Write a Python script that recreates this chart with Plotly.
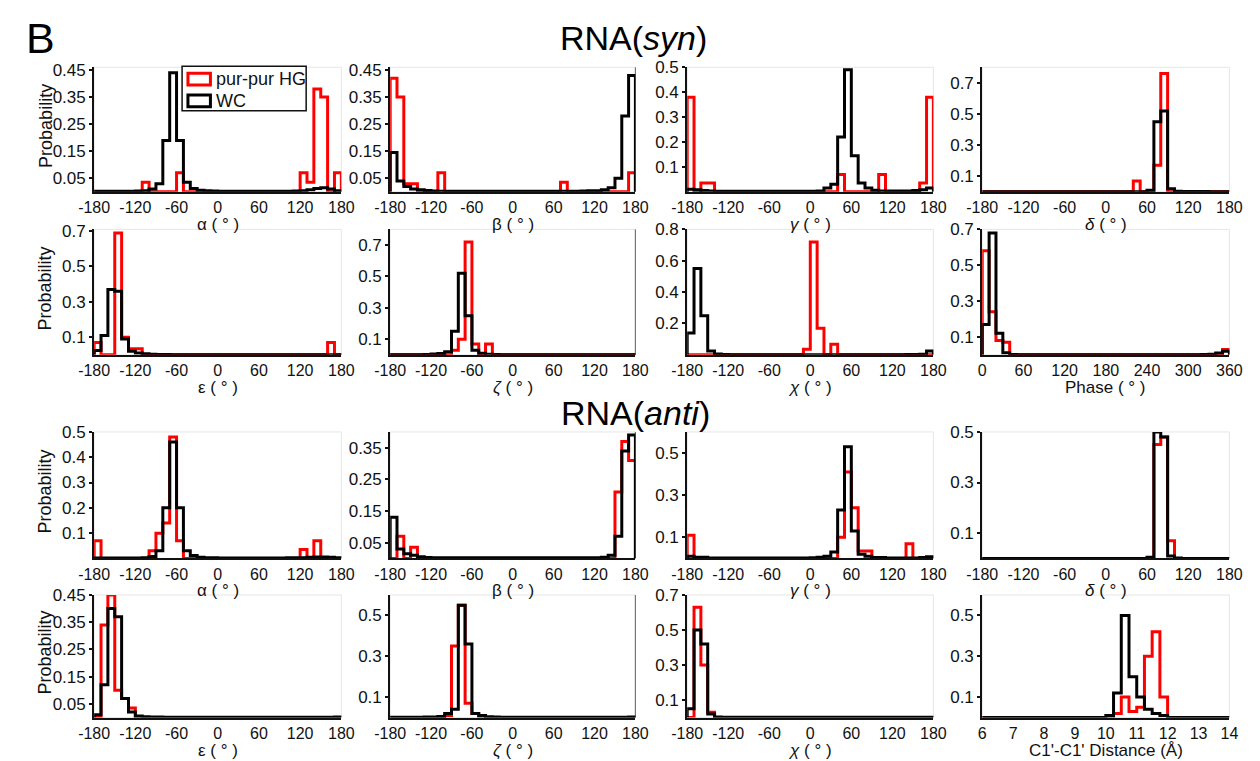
import plotly.graph_objects as go

# ---------------- data ----------------
angle_edges = [-180, -170, -160, -150, -140, -130, -120, -110, -100, -90, -80, -70,
               -60, -50, -40, -30, -20, -10, 0, 10, 20, 30, 40, 50,
               60, 70, 80, 90, 100, 110, 120, 130, 140, 150, 160, 170, 180]
phase_edges = [0, 10, 20, 30, 40, 50, 60, 70, 80, 90, 100, 110,
               120, 130, 140, 150, 160, 170, 180, 190, 200, 210, 220, 230,
               240, 250, 260, 270, 280, 290, 300, 310, 320, 330, 340, 350, 360]
dist_edges = [6.0, 6.25, 6.5, 6.75, 7.0, 7.25, 7.5, 7.75, 8.0, 8.25, 8.5, 8.75,
              9.0, 9.25, 9.5, 9.75, 10.0, 10.25, 10.5, 10.75, 11.0, 11.25, 11.5, 11.75,
              12.0, 12.25, 12.5, 12.75, 13.0, 13.25, 13.5, 13.75, 14.0]

angle_ticks = [-180, -120, -60, 0, 60, 120, 180]
angle_ticktext = ["-180", "-120", "-60", "0", "60", "120", "180"]
phase_ticks = [0, 60, 120, 180, 240, 300, 360]
phase_ticktext = ["0", "60", "120", "180", "240", "300", "360"]
dist_ticks = [6, 7, 8, 9, 10, 11, 12, 13, 14]
dist_ticktext = ["6", "7", "8", "9", "10", "11", "12", "13", "14"]

# RNA(syn)
syn_alpha_hg = [0, 0, 0, 0, 0, 0, 0, 0.035, 0, 0, 0, 0,
                0.07, 0, 0, 0, 0, 0, 0, 0, 0, 0, 0, 0,
                0, 0, 0, 0, 0, 0, 0.07, 0.035, 0.38, 0.35, 0, 0.07]
syn_alpha_wc = [0.002, 0.002, 0.002, 0.002, 0.002, 0.002, 0.003, 0.004, 0.01, 0.03, 0.19, 0.44,
                0.19, 0.035, 0.012, 0.006, 0.004, 0.003, 0.002, 0.002, 0.002, 0.002, 0.002, 0.002,
                0.002, 0.002, 0.002, 0.002, 0.002, 0.003, 0.004, 0.008, 0.012, 0.015, 0.01, 0.004]
syn_beta_hg = [0.42, 0.35, 0.03, 0.03, 0, 0, 0, 0.07, 0, 0, 0, 0,
               0, 0, 0, 0, 0, 0, 0, 0, 0, 0, 0, 0,
               0, 0.035, 0, 0, 0, 0, 0, 0, 0, 0, 0, 0.07]
syn_beta_wc = [0.145, 0.04, 0.02, 0.01, 0.008, 0.005, 0.003, 0.002, 0.002, 0.002, 0.002, 0.002,
               0.002, 0.002, 0.002, 0.002, 0.002, 0.002, 0.002, 0.002, 0.002, 0.002, 0.002, 0.002,
               0.002, 0.002, 0.002, 0.002, 0.003, 0.004, 0.004, 0.008, 0.015, 0.05, 0.28, 0.43]
syn_gamma_hg = [0.38, 0, 0.035, 0.035, 0, 0, 0, 0, 0, 0, 0, 0,
                0, 0, 0, 0, 0, 0, 0, 0, 0, 0, 0.07, 0,
                0, 0, 0, 0, 0.07, 0, 0, 0, 0, 0, 0.035, 0.38]
syn_gamma_wc = [0.01, 0.008, 0.005, 0.003, 0.002, 0.002, 0.002, 0.002, 0.002, 0.002, 0.002, 0.002,
                0.002, 0.002, 0.002, 0.002, 0.002, 0.002, 0.002, 0.003, 0.015, 0.03, 0.22, 0.49,
                0.145, 0.035, 0.015, 0.006, 0.003, 0.003, 0.003, 0.003, 0.003, 0.005, 0.008, 0.015]
syn_delta_hg = [0, 0, 0, 0, 0, 0, 0, 0, 0, 0, 0, 0,
                0, 0, 0, 0, 0, 0, 0, 0, 0, 0, 0.07, 0,
                0, 0.17, 0.76, 0, 0, 0, 0, 0, 0, 0, 0, 0]
syn_delta_wc = [0, 0, 0, 0, 0, 0, 0, 0, 0, 0, 0, 0,
                0, 0, 0, 0, 0, 0, 0, 0, 0, 0, 0, 0,
                0.01, 0.45, 0.52, 0.02, 0.004, 0.002, 0.002, 0.002, 0.002, 0, 0, 0]
syn_eps_hg = [0.07, 0, 0, 0.69, 0.1, 0.035, 0.035, 0, 0, 0, 0, 0,
              0, 0, 0, 0, 0, 0, 0, 0, 0, 0, 0, 0,
              0, 0, 0, 0, 0, 0, 0, 0, 0, 0, 0.07, 0]
syn_eps_wc = [0.025, 0.11, 0.37, 0.36, 0.09, 0.02, 0.01, 0.006, 0.004, 0.002, 0.002, 0.001,
              0.001, 0.001, 0.001, 0.001, 0.001, 0.001, 0.001, 0.001, 0.001, 0.001, 0.001, 0.001,
              0.001, 0.001, 0.001, 0.001, 0.001, 0.001, 0.001, 0.001, 0.001, 0.001, 0.001, 0.001]
syn_zeta_hg = [0, 0, 0, 0, 0, 0, 0, 0, 0, 0.03, 0.1, 0.72,
               0.07, 0, 0.07, 0, 0, 0, 0, 0, 0, 0, 0, 0,
               0, 0, 0, 0, 0, 0, 0, 0, 0, 0, 0, 0]
syn_zeta_wc = [0.001, 0.001, 0.001, 0.001, 0.001, 0.002, 0.006, 0.008, 0.02, 0.15, 0.52, 0.25,
               0.03, 0.01, 0.004, 0.002, 0.001, 0.001, 0.001, 0.001, 0.001, 0.001, 0.001, 0.001,
               0.001, 0.001, 0.001, 0.001, 0.001, 0.001, 0.001, 0.001, 0.001, 0.001, 0.001, 0.001]
syn_chi_hg = [0, 0, 0, 0, 0, 0, 0, 0, 0, 0, 0, 0,
              0, 0, 0, 0, 0, 0.035, 0.72, 0.17, 0, 0.067, 0, 0,
              0, 0, 0, 0, 0, 0, 0, 0, 0, 0, 0, 0]
syn_chi_wc = [0.14, 0.55, 0.25, 0.025, 0.005, 0.002, 0.001, 0.001, 0.001, 0.001, 0.001, 0.001,
              0.001, 0.001, 0.001, 0.001, 0.001, 0.001, 0.001, 0.001, 0.001, 0.001, 0.001, 0.001,
              0.001, 0.001, 0.001, 0.001, 0.001, 0.001, 0.001, 0.001, 0.002, 0.002, 0.004, 0.025]
syn_phase_hg = [0.58, 0.24, 0.08, 0.07, 0, 0, 0, 0, 0, 0, 0, 0,
                0, 0, 0, 0, 0, 0, 0, 0, 0, 0, 0, 0,
                0, 0, 0, 0, 0, 0, 0, 0, 0, 0, 0, 0.03]
syn_phase_wc = [0.17, 0.68, 0.12, 0.012, 0.002, 0.001, 0.001, 0.001, 0.001, 0.001, 0.001, 0.001,
                0.001, 0.001, 0.001, 0.001, 0.001, 0.001, 0.001, 0.001, 0.001, 0.001, 0.001, 0.001,
                0.001, 0.001, 0.001, 0.001, 0.001, 0.001, 0.001, 0.001, 0.002, 0.003, 0.01, 0.02]

# RNA(anti)
anti_alpha_hg = [0.07, 0, 0, 0, 0, 0, 0, 0, 0.03, 0.1, 0.14, 0.48,
                 0.07, 0, 0, 0, 0, 0, 0, 0, 0, 0, 0, 0,
                 0, 0, 0, 0, 0, 0, 0.035, 0, 0.07, 0, 0, 0]
anti_alpha_wc = [0.002, 0.002, 0.002, 0.002, 0.002, 0.002, 0.002, 0.003, 0.008, 0.03, 0.2, 0.46,
                 0.2, 0.03, 0.012, 0.005, 0.003, 0.003, 0.002, 0.002, 0.002, 0.002, 0.002, 0.002,
                 0.002, 0.002, 0.002, 0.002, 0.003, 0.003, 0.003, 0.005, 0.006, 0.006, 0.005, 0.003]
anti_beta_hg = [0, 0.07, 0, 0.035, 0, 0, 0, 0, 0, 0, 0, 0,
                0, 0, 0, 0, 0, 0, 0, 0, 0, 0, 0, 0,
                0, 0, 0, 0, 0, 0, 0, 0, 0, 0.21, 0.37, 0.31]
anti_beta_wc = [0.13, 0.03, 0.015, 0.01, 0.005, 0.003, 0.002, 0.002, 0.002, 0.002, 0.002, 0.002,
                0.002, 0.002, 0.002, 0.002, 0.002, 0.002, 0.002, 0.002, 0.002, 0.002, 0.002, 0.002,
                0.002, 0.002, 0.002, 0.002, 0.002, 0.002, 0.002, 0.004, 0.01, 0.07, 0.34, 0.39]
anti_gamma_hg = [0.11, 0, 0, 0, 0, 0, 0, 0, 0, 0, 0, 0,
                 0, 0, 0, 0, 0, 0, 0, 0, 0, 0, 0.1, 0.41,
                 0.24, 0.035, 0.035, 0, 0, 0, 0, 0, 0.07, 0, 0, 0]
anti_gamma_wc = [0.01, 0.005, 0.005, 0.002, 0.002, 0.002, 0.002, 0.002, 0.002, 0.002, 0.002, 0.002,
                 0.002, 0.002, 0.002, 0.002, 0.002, 0.002, 0.003, 0.005, 0.01, 0.03, 0.23, 0.53,
                 0.13, 0.02, 0.01, 0.004, 0.004, 0.002, 0.002, 0.002, 0.002, 0.002, 0.004, 0.008]
anti_delta_hg = [0, 0, 0, 0, 0, 0, 0, 0, 0, 0, 0, 0,
                 0, 0, 0, 0, 0, 0, 0, 0, 0, 0, 0, 0,
                 0, 0.45, 0.48, 0.07, 0, 0, 0, 0, 0, 0, 0, 0]
anti_delta_wc = [0, 0, 0, 0, 0, 0, 0, 0, 0, 0, 0, 0,
                 0, 0, 0, 0, 0, 0, 0, 0, 0, 0, 0, 0,
                 0.005, 0.5, 0.48, 0.01, 0.002, 0, 0, 0, 0, 0, 0, 0]
anti_eps_hg = [0, 0.34, 0.45, 0.1, 0.07, 0.035, 0, 0, 0, 0, 0, 0,
               0, 0, 0, 0, 0, 0, 0, 0, 0, 0, 0, 0,
               0, 0, 0, 0, 0, 0, 0, 0, 0, 0, 0, 0]
anti_eps_wc = [0.01, 0.12, 0.4, 0.37, 0.07, 0.02, 0.006, 0.003, 0.002, 0.002, 0.001, 0.001,
               0.001, 0.001, 0.001, 0.001, 0.001, 0.001, 0.001, 0.001, 0.001, 0.001, 0.001, 0.001,
               0.001, 0.001, 0.001, 0.001, 0.001, 0.001, 0.001, 0.001, 0.001, 0.001, 0.001, 0.002]
anti_zeta_hg = [0, 0, 0, 0, 0, 0, 0, 0, 0.01, 0.35, 0.55, 0.07,
                0.02, 0, 0, 0, 0, 0, 0, 0, 0, 0, 0, 0,
                0, 0, 0, 0, 0, 0, 0, 0, 0, 0, 0, 0]
anti_zeta_wc = [0.001, 0.001, 0.001, 0.001, 0.001, 0.002, 0.003, 0.005, 0.02, 0.04, 0.55, 0.36,
                0.02, 0.01, 0.004, 0.002, 0.001, 0.001, 0.001, 0.001, 0.001, 0.001, 0.001, 0.001,
                0.001, 0.001, 0.001, 0.001, 0.001, 0.001, 0.001, 0.001, 0.001, 0.001, 0.001, 0.002]
anti_chi_hg = [0, 0.63, 0.3, 0.03, 0, 0, 0, 0, 0, 0, 0, 0,
               0, 0, 0, 0, 0, 0, 0, 0, 0, 0, 0, 0,
               0, 0, 0, 0, 0, 0, 0, 0, 0, 0, 0, 0]
anti_chi_wc = [0.05, 0.5, 0.42, 0.02, 0.003, 0.001, 0.001, 0.001, 0.001, 0.001, 0.001, 0.001,
               0.001, 0.001, 0.001, 0.001, 0.001, 0.001, 0.001, 0.001, 0.001, 0.001, 0.001, 0.001,
               0.001, 0.001, 0.001, 0.001, 0.001, 0.001, 0.001, 0.001, 0.001, 0.001, 0.001, 0.001]
anti_dist_hg = [0, 0, 0, 0, 0, 0, 0, 0, 0, 0, 0, 0,
                0, 0, 0, 0, 0, 0.02, 0.1, 0.03, 0.05, 0.3, 0.42, 0.1,
                0, 0, 0, 0, 0, 0, 0, 0]
anti_dist_wc = [0, 0, 0, 0, 0, 0, 0, 0, 0, 0, 0, 0,
                0, 0, 0, 0, 0.01, 0.12, 0.5, 0.2, 0.1, 0.04, 0.02, 0.01,
                0, 0, 0, 0, 0, 0, 0, 0]

x_titles = ["α ( ° )", "β ( ° )", "<i>γ</i> ( ° )", "<i>δ</i> ( ° )",
            "ε ( ° )", "<i>ζ</i> ( ° )", "<i>χ</i> ( ° )", "Phase ( ° )",
            "α ( ° )", "β ( ° )", "<i>γ</i> ( ° )", "<i>δ</i> ( ° )",
            "ε ( ° )", "<i>ζ</i> ( ° )", "<i>χ</i> ( ° )", "C1'-C1' Distance (Å)"]

y_tickvals = [
    [0.05, 0.15, 0.25, 0.35, 0.45], [0.05, 0.15, 0.25, 0.35, 0.45], [0.1, 0.2, 0.3, 0.4, 0.5], [0.1, 0.3, 0.5, 0.7],
    [0.1, 0.3, 0.5, 0.7], [0.1, 0.3, 0.5, 0.7], [0.2, 0.4, 0.6, 0.8], [0.1, 0.3, 0.5, 0.7],
    [0.1, 0.2, 0.3, 0.4, 0.5], [0.05, 0.15, 0.25, 0.35], [0.1, 0.3, 0.5], [0.1, 0.3, 0.5],
    [0.05, 0.15, 0.25, 0.35, 0.45], [0.1, 0.3, 0.5], [0.1, 0.3, 0.5, 0.7], [0.1, 0.3, 0.5],
]
y_tops = [0.46, 0.46, 0.5, 0.8,
          0.71, 0.8, 0.8, 0.7,
          0.5, 0.4, 0.6, 0.5,
          0.45, 0.6, 0.7, 0.6]

panels = [
    (angle_edges, syn_alpha_hg, syn_alpha_wc, angle_ticks, angle_ticktext),
    (angle_edges, syn_beta_hg, syn_beta_wc, angle_ticks, angle_ticktext),
    (angle_edges, syn_gamma_hg, syn_gamma_wc, angle_ticks, angle_ticktext),
    (angle_edges, syn_delta_hg, syn_delta_wc, angle_ticks, angle_ticktext),
    (angle_edges, syn_eps_hg, syn_eps_wc, angle_ticks, angle_ticktext),
    (angle_edges, syn_zeta_hg, syn_zeta_wc, angle_ticks, angle_ticktext),
    (angle_edges, syn_chi_hg, syn_chi_wc, angle_ticks, angle_ticktext),
    (phase_edges, syn_phase_hg, syn_phase_wc, phase_ticks, phase_ticktext),
    (angle_edges, anti_alpha_hg, anti_alpha_wc, angle_ticks, angle_ticktext),
    (angle_edges, anti_beta_hg, anti_beta_wc, angle_ticks, angle_ticktext),
    (angle_edges, anti_gamma_hg, anti_gamma_wc, angle_ticks, angle_ticktext),
    (angle_edges, anti_delta_hg, anti_delta_wc, angle_ticks, angle_ticktext),
    (angle_edges, anti_eps_hg, anti_eps_wc, angle_ticks, angle_ticktext),
    (angle_edges, anti_zeta_hg, anti_zeta_wc, angle_ticks, angle_ticktext),
    (angle_edges, anti_chi_hg, anti_chi_wc, angle_ticks, angle_ticktext),
    (dist_edges, anti_dist_hg, anti_dist_wc, dist_ticks, dist_ticktext),
]

# ---------------- layout geometry (pixels) ----------------
W, H = 1260, 761
col_px = [(80, 333), (383, 634), (687, 939), (989, 1242)]
row_px = [(59, 185), (223, 350), (428, 556), (593, 717)]
FONT = "Liberation Sans, Arial, sans-serif"
RED = "#ff0000"
BLACK = "#000000"
TXT = "#111111"


def px_x(p):
    return p / W


def px_y(p):
    return 1 - p / H


def step_xy(edges, vals):
    xs = [edges[0]] + list(edges[:-1]) + [edges[-1], edges[-1]]
    ys = [0] + list(vals) + [vals[-1], 0]
    return xs, ys


fig = go.Figure()
annotations = []
shapes = []

for i, (edges, hg, wc, xt, xtt) in enumerate(panels):
    r, c = divmod(i, 4)
    n = "" if i == 0 else str(i + 1)
    xref, yref = "x" + n, "y" + n
    for vals, color in ((hg, RED), (wc, BLACK)):
        xs, ys = step_xy(edges, vals)
        fig.add_trace(go.Scatter(x=xs, y=ys, mode="lines", line=dict(color=color, width=3, shape="hv"),
                                 xaxis=xref, yaxis=yref, showlegend=False, hoverinfo="skip"))
    x0, x1 = col_px[c]
    y0, y1 = row_px[r]
    fig.layout["xaxis" + n] = dict(
        domain=[px_x(x0), px_x(x1)], anchor=yref, range=[edges[0], edges[-1]],
        tickmode="array", tickvals=xt, ticktext=xtt, ticks="", showgrid=False, zeroline=False,
        showline=True, linecolor=TXT, linewidth=2,
        tickfont=dict(family=FONT, size=16, color=TXT))
    fig.layout["yaxis" + n] = dict(
        domain=[px_y(y1), px_y(y0)], anchor=xref, range=[0, y_tops[i]],
        tickmode="array", tickvals=y_tickvals[i], ticks="outside", ticklen=3, tickwidth=1.5,
        tickcolor=TXT, showgrid=False, zeroline=False,
        showline=True, linecolor=TXT, linewidth=2,
        tickfont=dict(family=FONT, size=17, color=TXT))
    # faint frame
    shapes.append(dict(type="rect", xref=xref + " domain", yref=yref + " domain", x0=0, x1=1, y0=0, y1=1,
                       line=dict(color="#e6e6e6", width=1), layer="below"))
    if c == 1:
        shapes.append(dict(type="line", xref=xref + " domain", yref=yref + " domain", x0=1, x1=1, y0=0, y1=1,
                           line=dict(color="#777777", width=1.2), layer="below"))
    annotations.append(dict(text=x_titles[i], xref=xref + " domain", yref=yref + " domain", x=0.5, y=0,
                            xanchor="center", yanchor="top", yshift=-21, showarrow=False,
                            font=dict(family=FONT, size=17, color=TXT)))
    if c == 0:
        annotations.append(dict(text="Probability", xref="paper", yref="paper", x=px_x(30),
                                y=px_y((y0 + y1) / 2 - 4), xanchor="center", yanchor="middle",
                                textangle=-90, showarrow=False, font=dict(family=FONT, size=18, color=TXT)))

# titles
annotations.append(dict(text="B", xref="paper", yref="paper", x=px_x(8), y=px_y(29), xanchor="left",
                        yanchor="middle", showarrow=False, font=dict(family=FONT, size=43, color="#000")))
annotations.append(dict(text="RNA(<i>syn</i>)", xref="paper", yref="paper", x=px_x(632), y=px_y(29),
                        xanchor="center", yanchor="middle", showarrow=False,
                        font=dict(family=FONT, size=34, color="#000")))
annotations.append(dict(text="RNA(<i>anti</i>)", xref="paper", yref="paper", x=px_x(634), y=px_y(409),
                        xanchor="center", yanchor="middle", showarrow=False,
                        font=dict(family=FONT, size=34, color="#000")))

# legend (drawn manually in panel 1)
shapes.append(dict(type="rect", xref="paper", yref="paper", x0=px_x(170), x1=px_x(297), y0=px_y(103), y1=px_y(58),
                   line=dict(color=TXT, width=1.5), fillcolor="white", layer="above"))
shapes.append(dict(type="rect", xref="paper", yref="paper", x0=px_x(176), x1=px_x(199), y0=px_y(77), y1=px_y(65),
                   line=dict(color=RED, width=3), layer="above"))
shapes.append(dict(type="rect", xref="paper", yref="paper", x0=px_x(176), x1=px_x(199), y0=px_y(99), y1=px_y(87),
                   line=dict(color=BLACK, width=3), layer="above"))
annotations.append(dict(text="pur-pur HG", xref="paper", yref="paper", x=px_x(203), y=px_y(71), xanchor="left",
                        yanchor="middle", showarrow=False, font=dict(family=FONT, size=18, color=TXT)))
annotations.append(dict(text="WC", xref="paper", yref="paper", x=px_x(203), y=px_y(93), xanchor="left",
                        yanchor="middle", showarrow=False, font=dict(family=FONT, size=18, color=TXT)))

fig.update_layout(width=W, height=H, margin=dict(l=0, r=0, t=0, b=0), paper_bgcolor="white",
                  plot_bgcolor="white", annotations=annotations, shapes=shapes, showlegend=False,
                  font=dict(family=FONT))
fig.write_html("out.html", config={"displayModeBar": False})
